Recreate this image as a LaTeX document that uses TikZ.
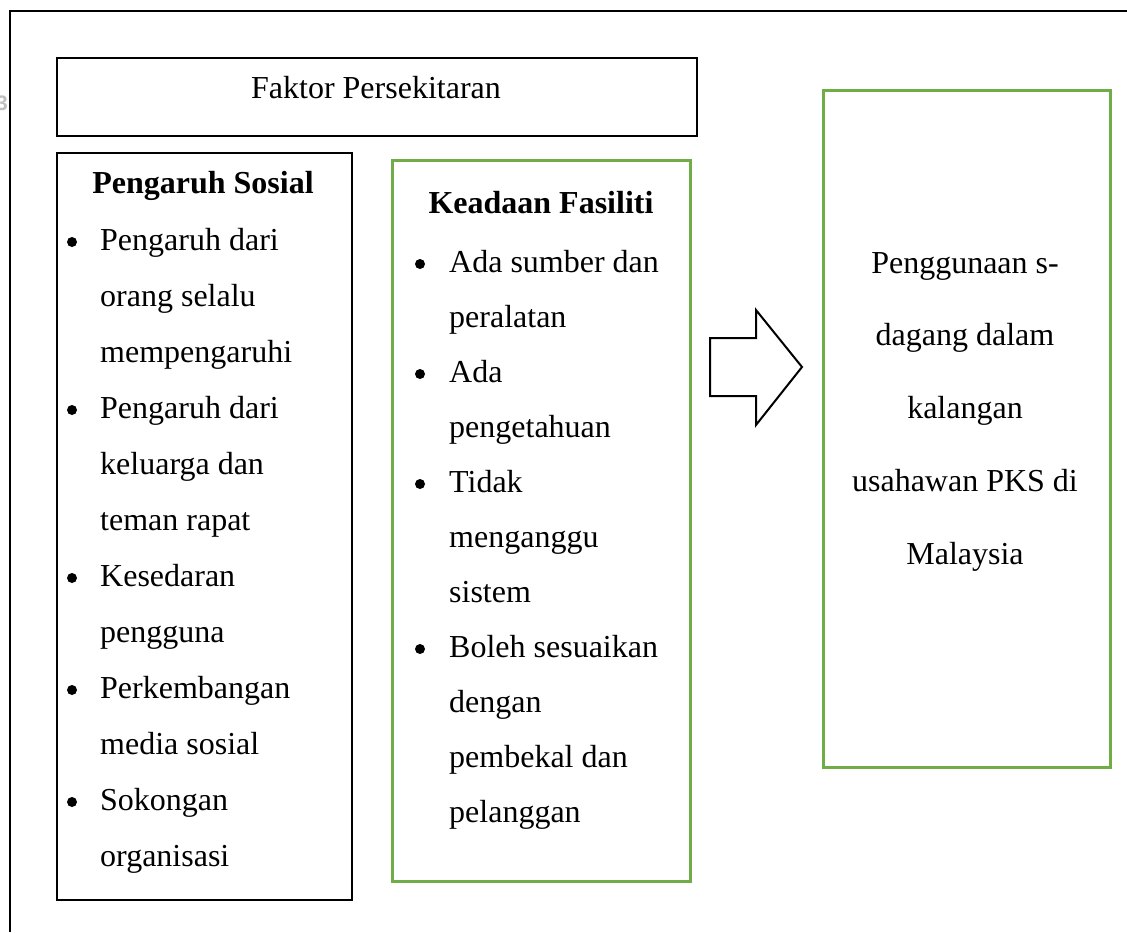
\documentclass[tikz,border=0pt]{standalone}
\usepackage{fontspec}
\setmainfont{Liberation Serif}
\newfontfamily\pagenumfont{Liberation Sans}
\definecolor{leafgreen}{HTML}{70AD47}
\begin{document}
\begin{tikzpicture}[x=1pt,y=-1pt,
  frame/.style={draw=black, line width=2pt},
  blackbox/.style={draw=black, line width=2pt, inner sep=0pt, anchor=north west},
  greenbox/.style={draw=leafgreen, line width=2.5pt, inner sep=0pt, anchor=north west},
  txt/.style={anchor=base, inner sep=0pt, font=\fontsize{32}{38}\selectfont},
  item/.style={txt, anchor=base west},
  dot/.style={circle, fill=black, inner sep=0pt, minimum size=10pt},
  title/.style={txt, font=\fontsize{32}{38}\selectfont\bfseries}]
\useasboundingbox (0,0) rectangle (1127,932);

% page frame and page number
\draw[frame] (10,932) -- (10,11) -- (1127,11);
\node[anchor=base east, inner sep=0pt, text=black!25, font=\pagenumfont\bfseries\fontsize{21}{24}\selectfont] (pagenum) at (8,110) {3};

% header box
\node[blackbox, minimum width=640pt, minimum height=78pt] (faktor) at (56,57) {};
\node[txt] (faktorlbl) at (376,98) {Faktor Persekitaran};

% social influence box
\node[blackbox, minimum width=295pt, minimum height=747pt] (sosial) at (56,152) {};
\node[title] (sosialttl) at (203,193) {Pengaruh Sosial};
\foreach \t [count=\i from 0] in {Pengaruh dari, orang selalu, mempengaruhi, Pengaruh dari, keluarga dan, teman rapat, Kesedaran, pengguna, Perkembangan, media sosial, Sokongan, organisasi}
  \node[item] (ps\i) at (100,250+56*\i) {\t};
\foreach \i in {0,3,6,8,10}
  \node[dot] (psb\i) at (72,242+56*\i) {};

% facilities box
\node[greenbox, minimum width=298pt, minimum height=721pt] (fasiliti) at (391,159) {};
\node[title] (fasilitittl) at (541,213) {Keadaan Fasiliti};
\foreach \t [count=\i from 0] in {Ada sumber dan, peralatan, Ada, pengetahuan, Tidak, menganggu, sistem, Boleh sesuaikan, dengan, pembekal dan, pelanggan}
  \node[item] (kf\i) at (449,272+55*\i) {\t};
\foreach \i in {0,2,4,7}
  \node[dot] (kfb\i) at (420,264+55*\i) {};

% block arrow
\draw[line width=2pt, line join=miter, fill=white]
  (710,338) -- (756,338) -- (756,310) -- (802,367) -- (756,425) -- (756,396) -- (710,396) -- cycle;

% outcome box
\node[greenbox, minimum width=287pt, minimum height=677pt] (hasil) at (822,89) {};
\foreach \t [count=\i from 0] in {Penggunaan s-, dagang dalam, kalangan, usahawan PKS di, Malaysia}
  \node[txt] (hs\i) at (965,273+72.75*\i) {\t};
\end{tikzpicture}
\end{document}
